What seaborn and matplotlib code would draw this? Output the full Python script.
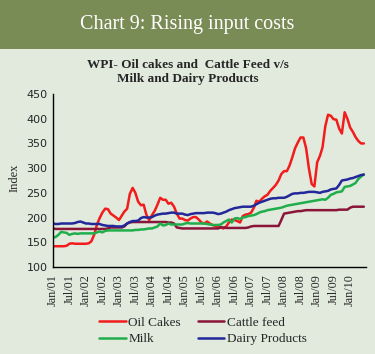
import numpy as np
import pandas as pd
import matplotlib
matplotlib.use("Agg")
import matplotlib.pyplot as plt
from matplotlib.patches import Rectangle
import seaborn as sns

# ---- data (monthly WPI, Jan 2001 - Jun 2010) ----
months = pd.date_range("2001-01-01", periods=114, freq="MS")

oil_cakes = [
    142, 142, 142, 142, 142, 143,
    147, 148, 147, 147, 147, 147, 147, 148,
    152, 165, 185, 199, 210, 218,
    217, 208, 204, 200, 195, 204, 212, 218,
    248, 260, 250, 232, 225, 226, 205, 195,
    205, 214, 226, 240, 236, 236, 228, 230,
    222, 208, 198, 198, 195, 194, 198, 201,
    201, 196, 190, 188, 192, 188, 185, 183,
    181, 180, 178, 182, 190, 196, 195, 193,
    190, 203, 206, 207, 210, 220, 234, 232,
    238, 243, 246, 254, 260, 266, 275, 288,
    294, 294, 305, 322, 340, 352, 362, 362,
    340, 300, 268, 263, 312, 325, 342, 385,
    408, 406, 399, 398, 380, 370, 413, 400,
    382, 373, 363, 355, 350, 350,
]
milk = [
    159, 161, 165, 171, 170, 169, 165, 167,
    168, 167, 168, 168, 168, 168, 168, 168,
    170, 172, 170, 173, 174, 174, 174, 174,
    174, 174, 174, 174, 174, 174, 175, 175,
    176, 176, 177, 178, 178, 180, 182, 188,
    184, 185, 188, 186, 186, 186, 186, 186,
    188, 189, 188, 188, 188, 188, 188, 188,
    187, 186, 185, 185, 185, 186, 190, 193,
    196, 190, 198, 199, 197, 200, 201, 203,
    204, 205, 207, 210, 212, 213, 215, 216,
    217, 218, 219, 220, 222, 224, 225, 226,
    227, 228, 229, 230, 231, 232, 233, 234,
    235, 236, 237, 236, 240, 246, 248, 251,
    252, 253, 262, 263, 264, 267, 270, 278,
    283, 287,
]
dairy = [
    188, 187, 187, 188, 188, 188, 188, 188,
    189, 191, 192, 190, 188, 188, 187, 187,
    187, 187, 185, 184, 183, 183, 183, 182,
    182, 182, 184, 188, 191, 193, 193, 194,
    199, 201, 200, 200, 201, 204, 206, 207,
    208, 208, 209, 210, 210, 208, 208, 208,
    206, 205, 207, 208, 209, 209, 209, 209,
    210, 210, 210, 209, 207, 208, 210, 212,
    215, 217, 219, 220, 221, 222, 222, 222,
    222, 224, 227, 230, 232, 234, 236, 238,
    239, 239, 240, 240, 240, 242, 245, 248,
    249, 249, 250, 250, 251, 252, 252, 252,
    251, 250, 252, 253, 254, 257, 258, 259,
    266, 275, 276, 277, 279, 280, 282, 284,
    286, 287,
]
cattle_feed = [
    178, 177, 177, 177, 177, 177, 177, 177,
    177, 177, 177, 177, 177, 177, 177, 177,
    177, 177, 177, 177, 178, 180, 180, 180,
    180, 180, 182, 188, 190, 191, 191, 191,
    191, 191, 191, 191, 191, 191, 191, 191,
    191, 191, 190, 190, 188, 180, 179, 178,
    178, 178, 178, 178, 178, 178, 178, 178,
    178, 178, 178, 178, 178, 180, 180, 179,
    179, 179, 179, 179, 179, 179, 179, 180,
    182, 183, 183, 183, 183, 183, 183, 183,
    183, 183, 183, 195, 208, 209, 210, 211,
    212, 213, 213, 214, 215, 215, 215, 215,
    215, 215, 215, 215, 215, 215, 215, 215,
    216, 216, 216, 216, 220, 222, 222, 222,
    222, 222,
]

series_names = ["Oil Cakes", "Cattle feed", "Milk", "Dairy Products"]
colors = {"Oil Cakes": "#f21c1c", "Cattle feed": "#8a1538",
          "Milk": "#1fae4b", "Dairy Products": "#22279a"}
tick_dates = pd.date_range("2001-01-01", "2010-01-01", freq="6MS")
tick_labels = [d.strftime("%b/%y") for d in tick_dates]
y_ticks = [100, 150, 200, 250, 300, 350, 400, 450]

df = pd.concat([
    pd.DataFrame({"Month": months, "Index": oil_cakes, "Series": "Oil Cakes"}),
    pd.DataFrame({"Month": months, "Index": cattle_feed, "Series": "Cattle feed"}),
    pd.DataFrame({"Month": months, "Index": milk, "Series": "Milk"}),
    pd.DataFrame({"Month": months, "Index": dairy, "Series": "Dairy Products"}),
])

# ---- figure ----
sns.set_style("white")
bg = "#e1eadd"
fig = plt.figure(figsize=(3.75, 3.54), dpi=100)
fig.patch.set_facecolor(bg)

banner = Rectangle((0, 1 - 49 / 354), 1, 49 / 354, transform=fig.transFigure,
                   facecolor="#7a8c56", edgecolor="none", zorder=0)
fig.patches.append(banner)
fig.text(0.5, 1 - 24 / 354, "Chart 9: Rising input costs", ha="center", va="center",
         color="white", fontsize=14.5, family="Liberation Serif")
fig.text(0.5, 1 - 72 / 354, "WPI- Oil cakes and  Cattle Feed v/s\nMilk and Dairy Products",
         ha="center", va="center", fontsize=9.5, fontweight="bold",
         family="Liberation Serif", linespacing=1.25)

ax = fig.add_axes([53 / 375, 1 - 267 / 354, (366 - 53) / 375, (267 - 94) / 354])
ax.set_facecolor(bg)
sns.lineplot(data=df, x="Month", y="Index", hue="Series", hue_order=series_names,
             palette=colors, linewidth=1.8, ax=ax, legend=True)

ax.set_ylim(100, 450)
ax.set_yticks(y_ticks)
ax.set_xlim(pd.Timestamp("2001-01-01"), pd.Timestamp("2010-06-25"))
ax.set_xticks(tick_dates)
ax.set_xticklabels(tick_labels, rotation=90, family="Liberation Serif", fontsize=8.7)
for lab in ax.get_yticklabels():
    lab.set_fontsize(8)
    lab.set_family("DejaVu Sans")
ax.set_xlabel("")
ax.set_ylabel("")
fig.text(15 / 375, 1 - 178 / 354, "Index", rotation=90, ha="center", va="center",
         fontsize=9, family="Liberation Serif")
for s in ["top", "right"]:
    ax.spines[s].set_visible(False)
for s in ["left", "bottom"]:
    ax.spines[s].set_color("black")
    ax.spines[s].set_linewidth(1)
ax.tick_params(axis="both", direction="out", length=3, width=1, color="black", pad=1)
ax.tick_params(axis="x", pad=2)

handles, labels = ax.get_legend_handles_labels()
ax.get_legend().remove()
hmap = dict(zip(labels, handles))
order = ["Oil Cakes", "Milk", "Cattle feed", "Dairy Products"]
leg = fig.legend([hmap[k] for k in order], order, ncol=2, loc="center",
                 bbox_to_anchor=(203 / 375, 1 - 331 / 354), frameon=False,
                 prop={"family": "Liberation Serif", "size": 9.5},
                 handlelength=2.0, handletextpad=0.2, columnspacing=1.3,
                 labelspacing=0.3)

fig.savefig("out.png", dpi=100, facecolor=bg)
